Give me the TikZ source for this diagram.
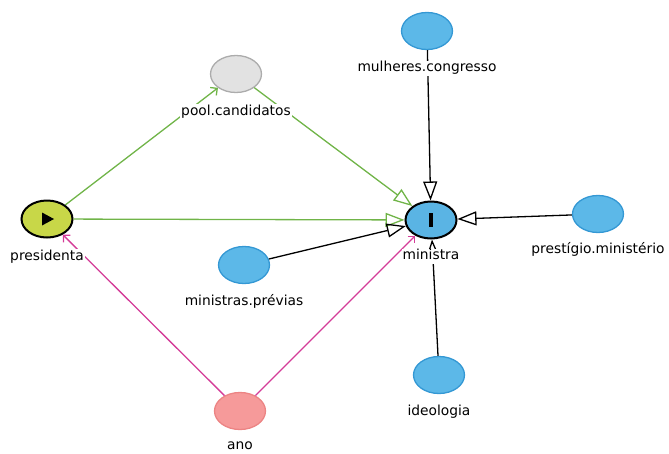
\documentclass[tikz,border=0pt]{standalone}
\usepackage{fontspec}
\setmainfont{DejaVu Sans}
\usetikzlibrary{shapes.geometric, arrows.meta}

\definecolor{exposurefill}{RGB}{200,215,72}
\definecolor{outcomefill}{RGB}{90,180,228}
\definecolor{adjfill}{RGB}{92,184,232}
\definecolor{adjedge}{RGB}{52,152,212}
\definecolor{latentfill}{RGB}{226,226,226}
\definecolor{latentedge}{RGB}{172,172,172}
\definecolor{ancfill}{RGB}{246,154,154}
\definecolor{ancedge}{RGB}{236,132,132}
\definecolor{causalgreen}{RGB}{112,180,72}
\definecolor{biaspink}{RGB}{212,60,152}

\begin{document}
\begin{tikzpicture}[x=1pt, y=-1pt,
  var/.style={ellipse, minimum width=51pt, minimum height=37pt, inner sep=0pt, line width=1.3pt},
  exposure/.style={var, fill=exposurefill, draw=black, line width=2pt},
  outcome/.style={var, fill=outcomefill, draw=black, line width=2pt},
  adjusted/.style={var, fill=adjfill, draw=adjedge},
  latent/.style={var, fill=latentfill, draw=latentedge},
  ancestor/.style={var, fill=ancfill, draw=ancedge},
  vlabel/.style={fill=white, inner sep=1pt, font=\fontsize{13.8}{16}\selectfont, text height=10pt, text depth=3pt},
  bigtip/.style={-{Triangle[open, length=19pt, width=14pt, line width=1.3pt]}},
  smalltip/.style={-{Straight Barb[length=5pt, width=10pt, line width=1.3pt]}},
  blackedge/.style={draw=black, line width=1.3pt, bigtip},
  greenedge/.style={draw=causalgreen, line width=1.3pt},
  pinkedge/.style={draw=biaspink, line width=1.3pt}
]
\useasboundingbox (0,0) rectangle (669,453);

% variables
\node[exposure] (presidenta) at (47,219) {};
\node[outcome]  (ministra)   at (431,220) {};
\node[latent]   (pool)       at (236,74) {};
\node[adjusted] (mulheres)   at (427,31) {};
\node[adjusted] (prestigio)  at (598,214) {};
\node[adjusted] (previas)    at (244,265) {};
\node[adjusted] (ideologia)  at (439,375) {};
\node[ancestor] (ano)        at (240,411) {};

% exposure and outcome markers
\fill ([shift={(-5,-6.5)}]presidenta.center) -- ++(0,13) -- ++(12,-6.5) -- cycle;
\fill ([shift={(-2.3,-7)}]ministra.center) rectangle ++(4.6,14);

% causal paths
\draw[greenedge, smalltip] (presidenta) -- (pool);
\draw[greenedge, bigtip]   (pool) -- (ministra);
\draw[greenedge, bigtip]   (presidenta) -- (ministra);

% biasing paths
\draw[pinkedge, smalltip] (ano) -- (presidenta);
\draw[pinkedge, smalltip] (ano) -- (ministra);

% other direct causes of the outcome
\draw[blackedge] (mulheres) -- (ministra);
\draw[blackedge] (prestigio) -- (ministra);
\draw[blackedge] (previas) -- (ministra);
\draw[blackedge] (ideologia) -- (ministra);

% names
\node[vlabel] (presidenta-l) at (47,256.5) {presidenta};
\node[vlabel] (ministra-l)   at (431,256) {ministra};
\node[vlabel] (pool-l)       at (236,111.5) {pool.candidatos};
\node[vlabel] (mulheres-l)   at (427,68) {mulheres.congresso};
\node[vlabel] (prestigio-l)  at (598,250) {prestígio.ministério};
\node[vlabel] (previas-l)    at (244,301.5) {ministras.prévias};
\node[vlabel] (ideologia-l)  at (439,411.5) {ideologia};
\node[vlabel] (ano-l)        at (240,445.5) {ano};
\end{tikzpicture}
\end{document}
